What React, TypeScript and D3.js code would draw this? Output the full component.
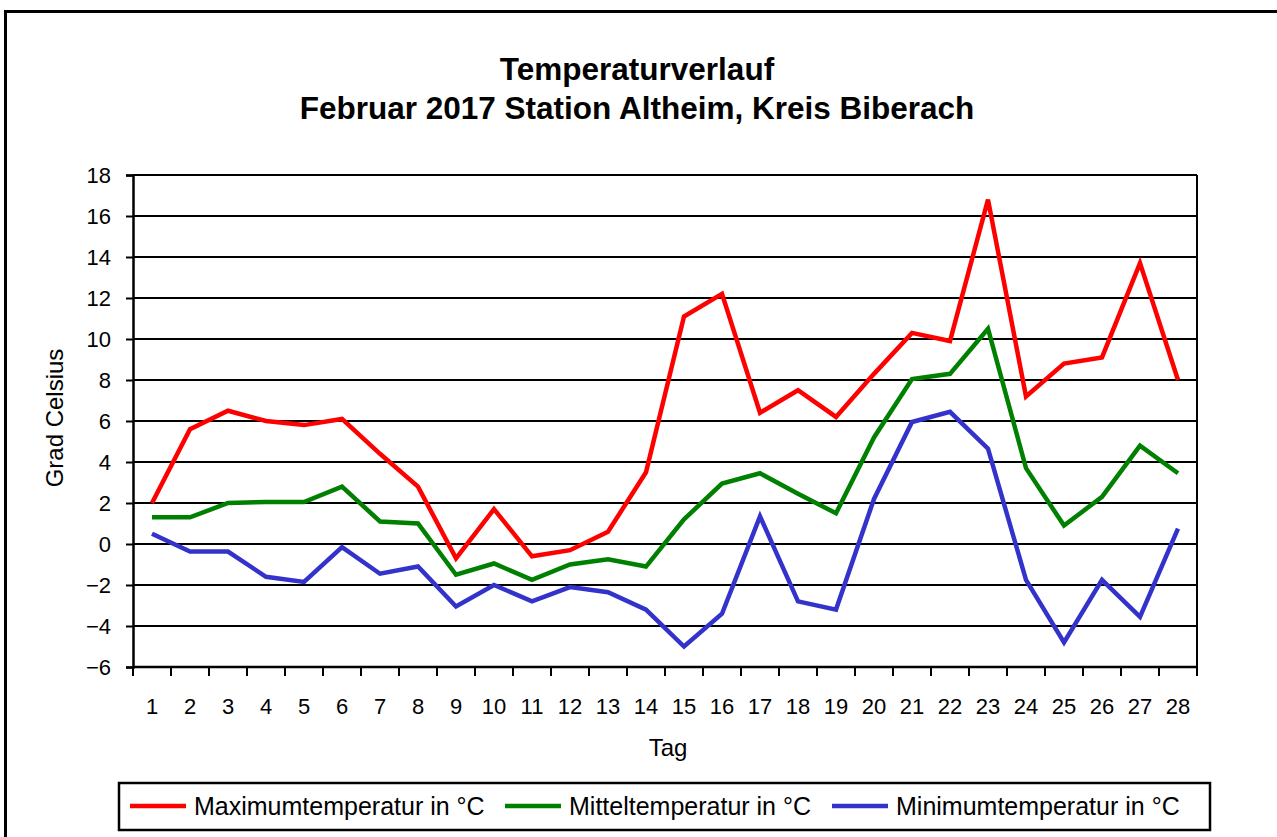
import React, { useEffect, useRef } from 'react';
import * as d3 from 'd3';

const days = d3.range(1, 29).map(String);
const maxTemp = [2.0, 5.6, 6.5, 6.0, 5.8, 6.1, 4.4, 2.8, -0.7, 1.7, -0.6, -0.3, 0.6, 3.5, 11.1, 12.2, 6.4, 7.5, 6.2, 8.3, 10.3, 9.9, 16.8, 7.2, 8.8, 9.1, 13.7, 8.0];
const meanTemp = [1.3, 1.3, 2.0, 2.05, 2.05, 2.8, 1.1, 1.0, -1.5, -0.95, -1.75, -1.0, -0.75, -1.1, 1.2, 2.95, 3.45, 2.45, 1.5, 5.2, 8.05, 8.3, 10.5, 3.7, 0.9, 2.3, 4.8, 3.45];
const minTemp = [0.5, -0.37, -0.37, -1.6, -1.85, -0.15, -1.45, -1.1, -3.05, -2.0, -2.8, -2.1, -2.35, -3.2, -5.0, -3.4, 1.35, -2.8, -3.2, 2.2, 5.95, 6.45, 4.65, -1.75, -4.8, -1.75, -3.55, 0.75];
const yTicks = [-6, -4, -2, 0, 2, 4, 6, 8, 10, 12, 14, 16, 18];

const series = [
  { name: 'Maximumtemperatur in °C', values: maxTemp, color: '#ff0000' },
  { name: 'Mitteltemperatur in °C', values: meanTemp, color: '#008000' },
  { name: 'Minimumtemperatur in °C', values: minTemp, color: '#3333cc' },
];

const W = 1277;
const H = 837;
const font = '"Liberation Sans", Arial, sans-serif';

const App = () => {
  const svgRef = useRef<SVGSVGElement>(null);

  useEffect(() => {
    if (!svgRef.current) return;
    const svg = d3.select(svgRef.current);
    svg.selectAll('*').remove();

    const left = 133, right = 1197, top = 175, bottom = 667;

    const x = d3.scaleBand().domain(days).range([left, right]);
    const y = d3.scaleLinear().domain([-6, 18]).range([bottom, top]);

    svg.append('rect').attr('width', W).attr('height', H).attr('fill', '#fff');

    // outer frame
    svg.append('rect')
      .attr('x', 5.5).attr('y', 11.5)
      .attr('width', W + 10).attr('height', H + 10)
      .attr('fill', 'none').attr('stroke', '#000').attr('stroke-width', 3);

    // title
    const title = svg.append('text')
      .attr('text-anchor', 'middle')
      .attr('font-family', font).attr('font-weight', 'bold').attr('font-size', 31.5);
    title.append('tspan').attr('x', 637).attr('y', 80).text('Temperaturverlauf');
    title.append('tspan').attr('x', 637).attr('y', 119).text('Februar 2017 Station Altheim, Kreis Biberach');

    // gridlines
    svg.append('g').selectAll('line')
      .data(yTicks)
      .enter().append('line')
      .attr('x1', left).attr('x2', right)
      .attr('y1', d => y(d)).attr('y2', d => y(d))
      .attr('stroke', '#000').attr('stroke-width', 2);

    // right border
    svg.append('line')
      .attr('x1', right).attr('x2', right).attr('y1', top).attr('y2', bottom)
      .attr('stroke', '#000').attr('stroke-width', 2);

    // y axis
    const yAxis = svg.append('g')
      .attr('transform', `translate(${left},0)`)
      .call(d3.axisLeft(y).tickValues(yTicks).tickSize(7).tickPadding(15));
    yAxis.select('.domain').attr('stroke-width', 2.5);
    yAxis.selectAll('.tick line').attr('stroke-width', 2);
    yAxis.selectAll('text').attr('font-family', font).attr('font-size', 22).attr('fill', '#000');

    // x axis, ticks sit between the days
    const xAxis = svg.append('g').attr('transform', `translate(0,${bottom})`);
    xAxis.append('line')
      .attr('x1', left).attr('x2', right).attr('stroke', '#000').attr('stroke-width', 2.5);
    xAxis.selectAll('.xt')
      .data(days)
      .enter().append('line')
      .attr('class', 'xt')
      .attr('x1', d => (x(d) as number) + x.bandwidth())
      .attr('x2', d => (x(d) as number) + x.bandwidth())
      .attr('y1', 0).attr('y2', 9)
      .attr('stroke', '#000').attr('stroke-width', 2);
    xAxis.append('line')
      .attr('x1', left).attr('x2', left).attr('y1', 0).attr('y2', 9)
      .attr('stroke', '#000').attr('stroke-width', 2);
    xAxis.selectAll('.xl')
      .data(days)
      .enter().append('text')
      .attr('class', 'xl')
      .attr('x', d => (x(d) as number) + x.bandwidth() / 2)
      .attr('y', 47)
      .attr('text-anchor', 'middle')
      .attr('font-family', font).attr('font-size', 22)
      .text(d => d);

    // axis titles
    svg.append('text')
      .attr('x', 668).attr('y', 756).attr('text-anchor', 'middle')
      .attr('font-family', font).attr('font-size', 24).text('Tag');
    svg.append('text')
      .attr('transform', `translate(63,${(top + bottom) / 2 - 3}) rotate(-90)`)
      .attr('text-anchor', 'middle')
      .attr('font-family', font).attr('font-size', 24).text('Grad Celsius');

    // lines
    const line = d3.line<number>()
      .x((_, i) => (x(days[i]) as number) + x.bandwidth() / 2)
      .y(d => y(d));
    series.forEach(s => {
      svg.append('path')
        .attr('d', line(s.values))
        .attr('fill', 'none')
        .attr('stroke', s.color)
        .attr('stroke-width', 4.5)
        .attr('stroke-linejoin', 'miter');
    });

    // legend
    svg.append('rect')
      .attr('x', 119).attr('y', 783).attr('width', 1091).attr('height', 47)
      .attr('fill', '#fff').attr('stroke', '#000').attr('stroke-width', 2.5);
    const legendX = [130, 505, 832];
    series.forEach((s, i) => {
      const g = svg.append('g').attr('transform', `translate(${legendX[i]},806)`);
      g.append('line').attr('x1', 0).attr('x2', 56).attr('y1', 0).attr('y2', 0)
        .attr('stroke', s.color).attr('stroke-width', 4.5);
      g.append('text').attr('x', 64).attr('y', 9)
        .attr('font-family', font).attr('font-size', 25).text(s.name);
    });
  }, []);

  return (
    <svg ref={svgRef} width={W} height={H} style={{ display: 'block', position: 'absolute', left: 0, top: 0 }} />
  );
};

export default App;
